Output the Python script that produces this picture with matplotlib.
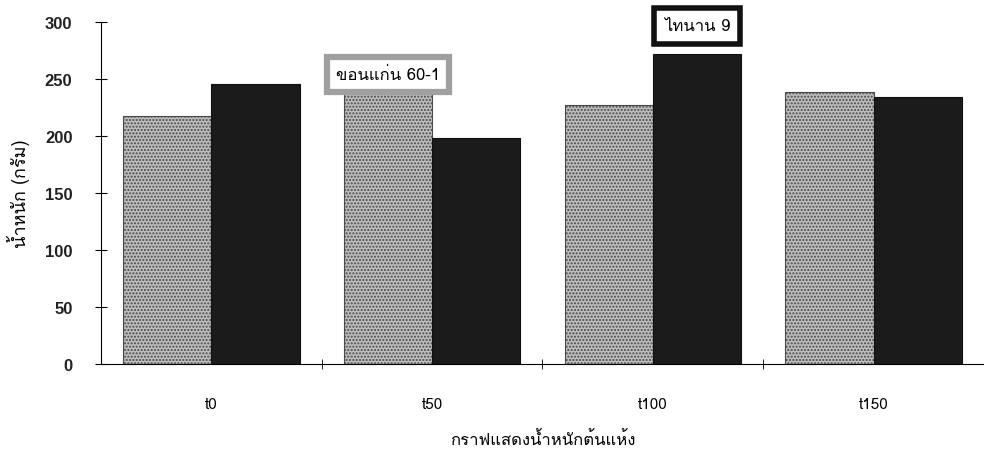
import matplotlib
matplotlib.use('Agg')
import matplotlib.pyplot as plt
from matplotlib import font_manager
from matplotlib.ft2font import FT2Font
import numpy as np

categories = ['t0', 't50', 't100', 't150']
khonkaen = [218, 238, 227, 239]   # ขอนแก่น 60-1
tainan = [246, 198, 272, 234]     # ไทนาน 9
yticks = [0, 50, 100, 150, 200, 250, 300]

# find a font that can draw Thai
thai_font = None
for f in font_manager.fontManager.ttflist:
    try:
        if 0x0E01 in FT2Font(f.fname).get_charmap():
            thai_font = f.name
            break
    except Exception:
        pass
fams = ([thai_font] if thai_font else []) + ['DejaVu Sans']
plt.rcParams['font.family'] = fams

fig = plt.figure(figsize=(9.84, 4.64), dpi=100)
ax = fig.add_axes([0.1026, 0.2134, 0.8974, 0.7366])

x = np.arange(len(categories))
w = 0.4
ax.bar(x - w/2, khonkaen, w, facecolor='#bdbdbd', edgecolor='#4a4a4a',
       hatch='.....', linewidth=0.8)
ax.bar(x + w/2, tainan, w, facecolor='#1b1b1b', edgecolor='#111111', linewidth=0.8)

ax.set_xlim(-0.5, 3.5)
ax.set_ylim(0, 300)
ax.set_yticks(yticks)
ax.set_yticklabels([str(v) for v in yticks], fontsize=12, fontweight='bold',
                   family=['Liberation Sans', 'DejaVu Sans'], color='#222222')
ax.set_xticks(x)
ax.set_xticklabels(categories, fontsize=11)
ax.set_xticks(np.arange(0.5, 3.5, 1.0), minor=True)
ax.tick_params(axis='x', which='major', length=0, pad=24)
ax.tick_params(axis='x', which='minor', length=7, direction='inout')
ax.tick_params(axis='y', length=9, direction='inout', pad=16)
for s in ['top', 'right']:
    ax.spines[s].set_visible(False)

ax.set_xlabel('กราฟแสดงน้ำหนักต้นแห้ง', fontsize=12, labelpad=14)
ax.set_ylabel('น้ำหนัก (กรัม)', fontsize=13, labelpad=11)

ax.text(x[1] - w/2, 254, 'ขอนแก่น 60-1', ha='center', va='center', fontsize=12,
        bbox=dict(boxstyle='square,pad=0.55', facecolor='white', edgecolor='#a0a0a0', linewidth=4.5),
        clip_on=False)
ax.text(x[2] + w/2, 297, 'ไทนาน 9', ha='center', va='center', fontsize=12,
        bbox=dict(boxstyle='square,pad=0.6', facecolor='white', edgecolor='#111111', linewidth=4),
        clip_on=False)

fig.savefig('out.png', dpi=100)
